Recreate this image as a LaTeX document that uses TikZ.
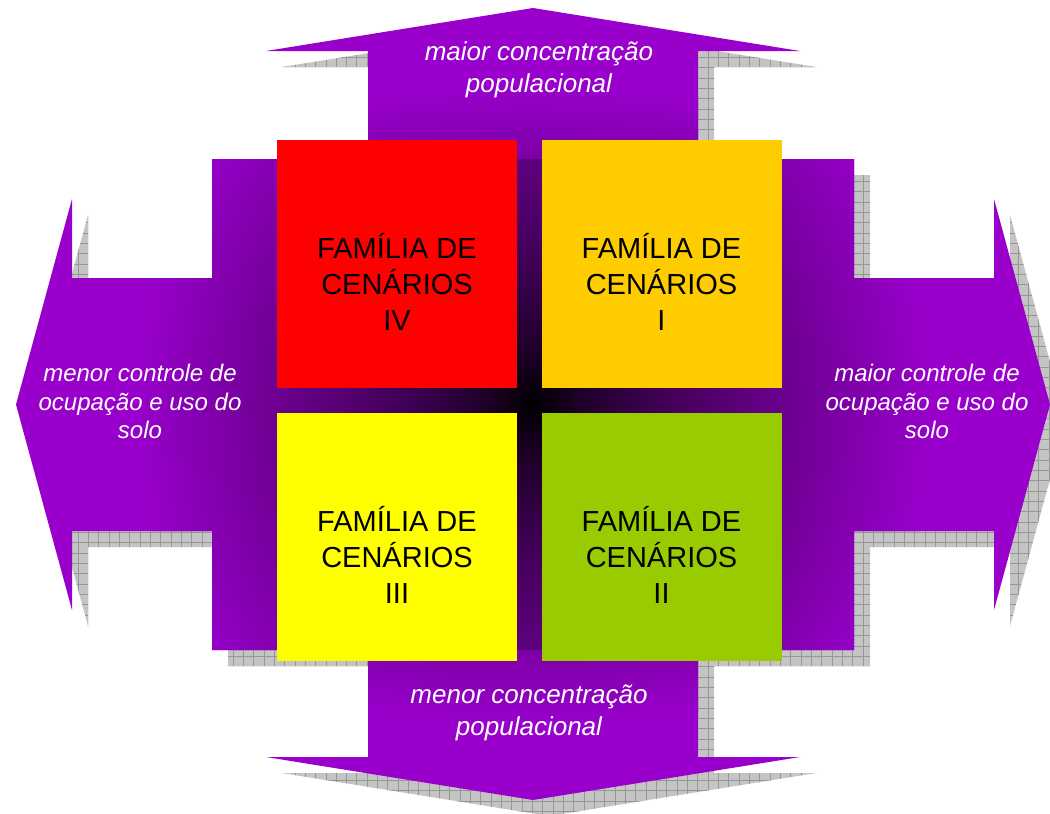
\documentclass[tikz,border=0pt]{standalone}
\usepackage{fontspec}
\setmainfont{Liberation Sans}
\definecolor{pur}{HTML}{9900CC}
\definecolor{shadowgray}{HTML}{C4C4C4}
\definecolor{gridgray}{HTML}{969696}
\definecolor{boxred}{HTML}{FF0000}
\definecolor{boxorange}{HTML}{FFCC00}
\definecolor{boxyellow}{HTML}{FFFF00}
\definecolor{boxgreen}{HTML}{99CC00}
\colorlet{glowA}{pur!20!black}
\colorlet{glowB}{pur!42!black}
\colorlet{glowC}{pur!71!black}
\pgfdeclareradialshading{glow}{\pgfpoint{0bp}{0bp}}{color(0bp)=(black); color(3bp)=(glowA); color(8bp)=(glowB); color(16bp)=(glowC); color(25bp)=(pur); color(50bp)=(pur)}
\tikzset{
  Hshape/.style={insert path={(16,404.5) -- (72,199) -- (72,278) -- (212,278) -- (212,159) -- (854,159) -- (854,278) -- (994,278) -- (994,199) -- (1050,404.5) -- (994,610) -- (994,531) -- (854,531) -- (854,650) -- (212,650) -- (212,531) -- (72,531) -- (72,610) -- cycle}},
  Vshape/.style={insert path={(533,8) -- (800,51) -- (698,51) -- (698,757) -- (800,757) -- (533,800) -- (266,757) -- (368,757) -- (368,51) -- (266,51) -- cycle}},
  quad/.style={draw=none, minimum width=240pt, minimum height=248pt, inner sep=0pt, outer sep=0pt},
  quadtext/.style={font=\fontsize{29}{36}\selectfont, align=center, text=black, inner sep=0pt},
  axislabel/.style={font=\fontsize{26}{32}\selectfont\itshape, align=center, text=white, inner sep=0pt},
  sidelabel/.style={font=\fontsize{24}{28.8}\selectfont\itshape, align=center, text=white, inner sep=0pt},
  shadowgrid/.style={draw=gridgray, line width=0.8pt}
}
\begin{document}
\begin{tikzpicture}[x=1pt,y=-1pt]
\useasboundingbox (0,0) rectangle (1050,814);

% shadows
\begin{scope}[shift={(16,16)}]
  \begin{scope}
    \clip[Hshape];
    \fill[shadowgray] (0,0) rectangle (1100,850);
    \draw[shadowgrid, step=10.33pt] (0,0) grid (1100,850);
  \end{scope}
  \begin{scope}
    \clip[Vshape];
    \fill[shadowgray] (0,0) rectangle (1100,850);
    \draw[shadowgrid, step=10.33pt] (0,0) grid (1100,850);
  \end{scope}
\end{scope}

% vertical double arrow
\begin{scope}
  \clip[Vshape];
  \fill[pur] (0,0) rectangle (1050,814);
  \shade[shading=glow] (533,404.5) ellipse [x radius=600, y radius=320];
\end{scope}

% horizontal double arrow
\begin{scope}
  \clip[Hshape];
  \fill[pur] (0,0) rectangle (1050,814);
  \shade[shading=glow] (533,404.5) ellipse [x radius=400, y radius=450];
\end{scope}

% quadrants
\node[quad, fill=boxred]    (q4) at (397,264)   {};
\node[quad, fill=boxorange] (q1) at (661.5,264) {};
\node[quad, fill=boxyellow] (q3) at (397,537)   {};
\node[quad, fill=boxgreen]  (q2) at (661.5,537) {};

\node[quadtext] (t4) at ([yshift=-17.5pt]q4.center) {FAMÍLIA DE\\CENÁRIOS\\IV};
\node[quadtext] (t1) at ([yshift=-17.5pt]q1.center) {FAMÍLIA DE\\CENÁRIOS\\I};
\node[quadtext] (t3) at ([yshift=-17.5pt]q3.center) {FAMÍLIA DE\\CENÁRIOS\\III};
\node[quadtext] (t2) at ([yshift=-17.5pt]q2.center) {FAMÍLIA DE\\CENÁRIOS\\II};

% axis labels
\node[axislabel] (top) at (539,69.5) {maior concentração\\populacional};
\node[axislabel] (bottom) at (529,712.5) {menor concentração\\populacional};
\node[sidelabel] (left) at (140,401.5) {menor controle de\\ocupação e uso do\\solo};
\node[sidelabel] (right) at (927,401.5) {maior controle de\\ocupação e uso do\\solo};
\end{tikzpicture}
\end{document}
